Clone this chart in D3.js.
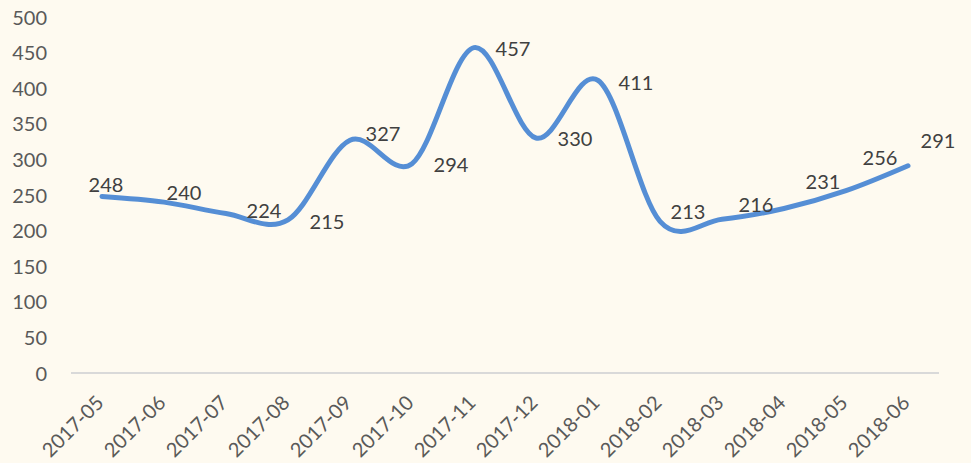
<!DOCTYPE html>
<html>
<head>
<meta charset="utf-8">
<script src="https://cdn.jsdelivr.net/npm/d3@7"></script>
<style>
    html, body { margin: 0; padding: 0; background: #fefaf0; }
    svg { display: block; }
    .tick text { font-family: Lato, "Open Sans", sans-serif; font-size: 20px; fill: #595959; }
    .data-label { font-family: Lato, "Open Sans", sans-serif; font-size: 20px; fill: #404040; }
</style>
</head>
<body>
<svg id="chart" width="971" height="463"></svg>
<script>
// Data
const months = ['2017-05', '2017-06', '2017-07', '2017-08', '2017-09', '2017-10', '2017-11',
    '2017-12', '2018-01', '2018-02', '2018-03', '2018-04', '2018-05', '2018-06'];
const counts = [248, 240, 224, 215, 327, 294, 457, 330, 411, 213, 216, 231, 256, 291];
const yTicks = [0, 50, 100, 150, 200, 250, 300, 350, 400, 450, 500];

// label nudges (dx, dy) in px, relative to each point
const labelShift = [[4, -11], [20, -9], [38, -3], [39, 2], [33, -6], [39, 1], [39, 1],
    [39, 1], [38, 3], [28, -9], [34, -14], [39, -27], [34, -33], [30, -25]];

const width = 971, height = 463;
const plot = { left: 71, right: 939, top: 17, bottom: 373 };

const svg = d3.select('#chart');

const x = d3.scaleBand().domain(months).range([plot.left, plot.right]);
const y = d3.scaleLinear().domain([0, 500]).range([plot.bottom, plot.top]);
const cx = d => x(d) + x.bandwidth() / 2;

// --- Y axis ---
const yAxis = svg.append('g')
    .attr('transform', `translate(${plot.left},0)`)
    .call(d3.axisLeft(y).tickValues(yTicks).tickSize(0).tickPadding(24));
yAxis.select('.domain').remove();
yAxis.selectAll('.tick text').attr('dy', '0.35em');

// --- X axis ---
svg.append('line')
    .attr('x1', plot.left).attr('x2', plot.right)
    .attr('y1', plot.bottom).attr('y2', plot.bottom)
    .attr('stroke', '#d9d9d9').attr('stroke-width', 2);

const xAxis = svg.append('g')
    .attr('transform', `translate(0,${plot.bottom})`)
    .call(d3.axisBottom(x).tickSize(0).tickPadding(0));
xAxis.select('.domain').remove();
xAxis.selectAll('.tick text')
    .attr('text-anchor', 'end')
    .attr('dy', null)
    .attr('y', 0)
    .attr('transform', 'translate(3,31) rotate(-45)');

// --- Line ---
const line = d3.line()
    .x((d, i) => cx(months[i]))
    .y(d => y(d))
    .curve(d3.curveCardinal.tension(0));

svg.append('path')
    .datum(counts)
    .attr('d', line)
    .attr('fill', 'none')
    .attr('stroke', '#558ed5')
    .attr('stroke-width', 5)
    .attr('stroke-linecap', 'round')
    .attr('stroke-linejoin', 'round');

// --- Data labels ---
svg.append('g')
    .selectAll('text')
    .data(counts)
    .enter().append('text')
    .attr('class', 'data-label')
    .attr('text-anchor', 'middle')
    .attr('dy', '0.35em')
    .attr('x', (d, i) => cx(months[i]) + labelShift[i][0])
    .attr('y', (d, i) => y(d) + labelShift[i][1])
    .text(d => d);
</script>
</body>
</html>
